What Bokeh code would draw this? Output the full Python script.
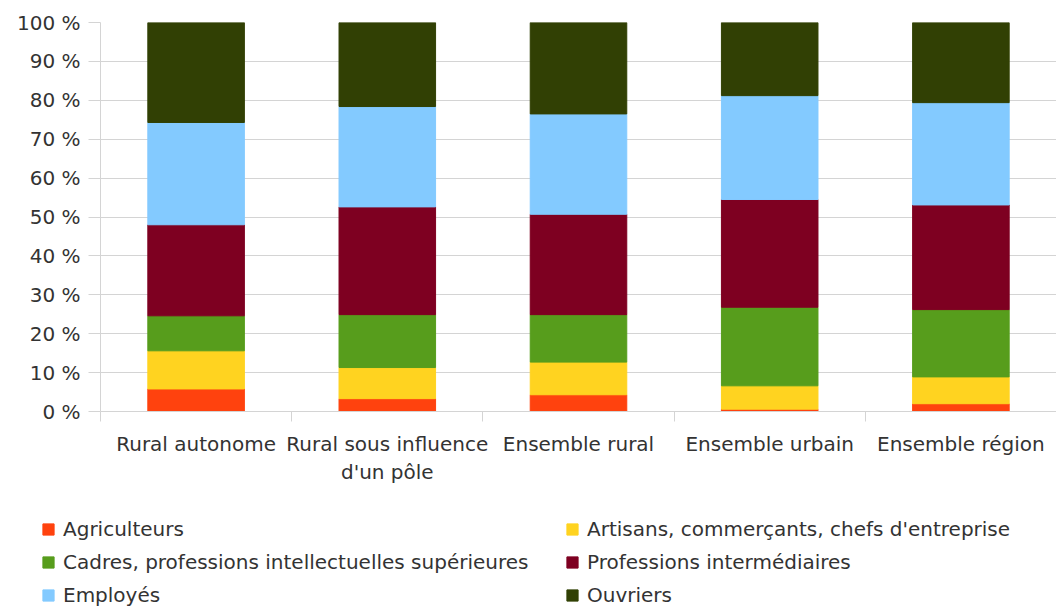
from bokeh.plotting import figure
from bokeh.models import (ColumnDataSource, Range1d, FixedTicker, PrintfTickFormatter,
                          Legend, LegendItem)
from bokeh.embed import file_html
from bokeh.resources import INLINE

categories = ["Rural autonome", "Rural sous influence\nd'un pôle", "Ensemble rural",
              "Ensemble urbain", "Ensemble région"]
series = ["Agriculteurs", "Artisans, commerçants, chefs d'entreprise",
          "Cadres, professions intellectuelles supérieures", "Professions intermédiaires",
          "Employés", "Ouvriers"]
agriculteurs = [5.8, 3.3, 4.3, 0.6, 2.0]
artisans = [9.8, 8.0, 8.4, 6.0, 6.9]
cadres = [9.0, 13.6, 12.2, 20.2, 17.3]
prof_inter = [23.4, 27.7, 25.8, 27.7, 26.9]
employes = [26.3, 25.8, 25.8, 26.7, 26.3]
ouvriers = [25.7, 21.6, 23.5, 18.8, 20.6]
colors = ["#ff420e", "#ffd320", "#579d1c", "#7e0021", "#83caff", "#314004"]
y_ticks = list(range(0, 101, 10))

FONT = "DejaVu Sans"
TXT = "#333333"
GRID = "#d4d4d4"
W = 1056
H_MAIN = 488
H_LEG = 119
FRAME_LEFT = 100

xs = [i + 1 for i in range(len(categories))]
keys = ["s%d" % i for i in range(len(series))]
data = dict(x=xs)
for k, vals in zip(keys, [agriculteurs, artisans, cadres, prof_inter, employes, ouvriers]):
    data[k] = vals
source = ColumnDataSource(data)

p = figure(width=W, height=H_MAIN, x_range=Range1d(0.5, len(categories) + 0.5),
           y_range=Range1d(0, 100), output_backend="svg", toolbar_location=None,
           min_border_left=FRAME_LEFT, min_border_right=0, min_border_top=22,
           min_border_bottom=H_MAIN - 22 - 389)
p.outline_line_color = None

renderers = p.vbar_stack(keys, x="x", width=0.505, color=colors, source=source)

# x axis
p.xaxis.ticker = FixedTicker(ticks=xs, minor_ticks=[i + 0.5 for i in range(len(categories) + 1)])
p.xaxis.major_label_overrides = {x: c for x, c in zip(xs, categories)}
p.xaxis.major_tick_out = 0
p.xaxis.major_tick_in = 0
p.xaxis.minor_tick_out = 10
p.xaxis.minor_tick_in = 0
p.xaxis.minor_tick_line_color = GRID
p.xaxis.axis_line_color = GRID
p.xaxis.major_label_standoff = 10
p.xaxis.major_label_text_font = FONT
p.xaxis.major_label_text_font_size = "20px"
p.xaxis.major_label_text_color = TXT
p.xgrid.grid_line_color = None

# y axis
p.yaxis.ticker = FixedTicker(ticks=y_ticks)
p.yaxis.formatter = PrintfTickFormatter(format="%d %%")
p.yaxis.major_tick_out = 12
p.yaxis.major_tick_in = 0
p.yaxis.minor_tick_line_color = None
p.yaxis.major_tick_line_color = GRID
p.yaxis.axis_line_color = GRID
p.yaxis.major_label_standoff = 8
p.yaxis.major_label_text_font = FONT
p.yaxis.major_label_text_font_size = "20px"
p.yaxis.major_label_text_color = TXT
p.ygrid.ticker = FixedTicker(ticks=y_ticks)
p.ygrid.grid_line_color = GRID

# legend figure (separate root, so its frame is not aligned with the chart's)
q = figure(width=W, height=H_LEG, x_range=Range1d(0, 1), y_range=Range1d(0, 1),
           x_axis_type=None, y_axis_type=None, output_backend="svg",
           toolbar_location=None, min_border=0)
q.outline_line_color = None
q.xgrid.grid_line_color = None
q.ygrid.grid_line_color = None
leg_renderers = [q.vbar(x=[-10], top=[-10], width=0.1, color=c) for c in colors]
items = [LegendItem(label=s, renderers=[r]) for s, r in zip(series, leg_renderers)]


def make_legend(its, loc):
    lg = Legend(items=its, location=loc, orientation="vertical")
    lg.border_line_color = None
    lg.background_fill_alpha = 0
    lg.padding = 0
    lg.margin = 0
    lg.spacing = 9
    lg.glyph_width = 14
    lg.glyph_height = 14
    lg.label_standoff = 8
    lg.label_height = 24
    lg.label_text_font = FONT
    lg.label_text_font_size = "20px"
    lg.label_text_color = TXT
    return lg


q.add_layout(make_legend(items[0::2], (41, 0)))
q.add_layout(make_legend(items[1::2], (565, 0)))

open("out.html", "w").write(file_html([p, q], INLINE))
